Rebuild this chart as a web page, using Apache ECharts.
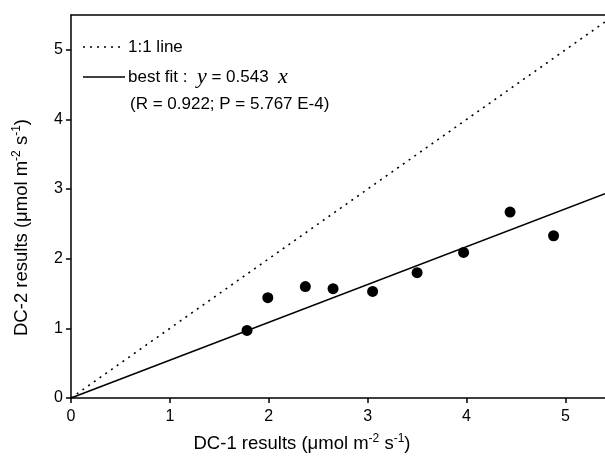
<!DOCTYPE html>
<html>
<head>
<meta charset="utf-8">
<title>DC-1 vs DC-2 results</title>
<script src="https://cdn.jsdelivr.net/npm/echarts@6/dist/echarts.min.js"></script>
<style>
  html, body { margin: 0; padding: 0; background: #ffffff; }
  #chart { width: 605px; height: 469px; }
</style>
</head>
<body>
<div id="chart"></div>
<script>
// Paired measurements: DC-1 (x) against DC-2 (y), µmol m-2 s-1
const dc1Values = [1.78, 1.99, 2.37, 2.65, 3.05, 3.50, 3.97, 4.44, 4.88];
const dc2Values = [0.97, 1.44, 1.60, 1.57, 1.53, 1.80, 2.09, 2.67, 2.33];

// Regression through the origin
const fitSlope = 0.543;
const fitR = 0.922;
const fitP = '5.767 E-4';

// Axis ranges and tick labels
const xRange = [0, 5.4];
const yRange = [0, 5.5];
const xTicks = [0, 1, 2, 3, 4, 5];
const yTicks = [0, 1, 2, 3, 4, 5];

const points = dc1Values.map((x, i) => [x, dc2Values[i]]);
const identityLine = [[xRange[0], xRange[0]], [xRange[1], xRange[1]]];
const fitLine = [[xRange[0], fitSlope * xRange[0]], [xRange[1], fitSlope * xRange[1]]];

const FONT = '"Liberation Sans", Arial, sans-serif';
const SERIF_ITALIC = 'italic 22px "Liberation Serif", "Times New Roman", serif';
const chart = echarts.init(document.getElementById('chart'), null, { renderer: 'canvas' });

const supStyle = { fontSize: 12, fontFamily: FONT, color: '#000', padding: [0, 0, 9, 0] };
function nameStyle(padding) {
  return {
    fontSize: 18.5, fontFamily: FONT, color: '#000', padding: padding,
    rich: { base: { fontSize: 18.5, fontFamily: FONT, color: '#000' }, sup: supStyle }
  };
}
const tickLine = { color: '#000', width: 1.5 };

const legendX = 83;
chart.setOption({
  animation: false,
  backgroundColor: '#ffffff',
  grid: { left: 71, top: 15, right: 0, bottom: 71, containLabel: false },
  xAxis: [{
    type: 'value', min: xRange[0], max: xRange[1], interval: 1,
    position: 'bottom',
    name: '{base|DC-1 results (μmol m}{sup|-2}{base| s}{sup|-1}{base|)}',
    nameLocation: 'middle', nameGap: 35, nameTextStyle: nameStyle([0, 72, 0, 0]),
    axisLine: { show: true, onZero: false, lineStyle: tickLine },
    axisTick: { show: true, inside: false, length: 5, lineStyle: tickLine, customValues: xTicks },
    axisLabel: { color: '#000', fontSize: 16, fontFamily: FONT, margin: 11, customValues: xTicks },
    splitLine: { show: false }
  }, {
    // frame line along the top of the plot
    type: 'value', min: xRange[0], max: xRange[1], position: 'top',
    axisLine: { show: true, onZero: false, lineStyle: tickLine },
    axisTick: { show: false }, axisLabel: { show: false }, splitLine: { show: false }
  }],
  yAxis: {
    type: 'value', min: yRange[0], max: yRange[1], interval: 1,
    name: '{base|DC-2 results (μmol m}{sup|-2}{base| s}{sup|-1}{base|)}',
    nameLocation: 'middle', nameGap: 39, nameRotate: 90, nameTextStyle: nameStyle([0, 42, 0, 0]),
    axisLine: { show: true, onZero: false, lineStyle: tickLine },
    axisTick: { show: true, inside: false, length: 5, lineStyle: tickLine, customValues: yTicks },
    axisLabel: { color: '#000', fontSize: 16, fontFamily: FONT, margin: 8, customValues: yTicks },
    splitLine: { show: false }
  },
  series: [{
    name: '1:1 line', type: 'line', data: identityLine, symbol: 'none',
    lineStyle: { color: '#000', width: 1.6, type: [2, 5] }, z: 2
  }, {
    name: 'best fit', type: 'line', data: fitLine, symbol: 'none',
    lineStyle: { color: '#000', width: 1.5 }, z: 3
  }, {
    name: 'DC-2', type: 'scatter', data: points, symbol: 'circle', symbolSize: 11,
    itemStyle: { color: '#000', opacity: 1 }, z: 4
  }],
  graphic: [
    { type: 'line', shape: { x1: legendX, y1: 47, x2: legendX + 40, y2: 47 },
      style: { stroke: '#000', lineWidth: 1.6, lineDash: [2, 5] } },
    { type: 'text', x: legendX + 45, y: 47,
      style: { text: '1:1 line', font: '17px ' + FONT, fill: '#000', verticalAlign: 'middle' } },
    { type: 'line', shape: { x1: legendX, y1: 77, x2: legendX + 42, y2: 77 },
      style: { stroke: '#000', lineWidth: 1.5 } },
    { type: 'text', x: legendX + 45, y: 77,
      style: {
        text: '{t|best fit}{t| :  }{i|y}{t| = ' + fitSlope + '  }{i|x}',
        verticalAlign: 'middle',
        rich: {
          t: { font: '17px ' + FONT, fill: '#000' },
          i: { font: SERIF_ITALIC, fill: '#000' }
        }
      } },
    { type: 'text', x: legendX + 47, y: 104,
      style: { text: '(R = ' + fitR + '; P = ' + fitP + ')', font: '17px ' + FONT, fill: '#000',
        verticalAlign: 'middle' } }
  ]
});
</script>
</body>
</html>
